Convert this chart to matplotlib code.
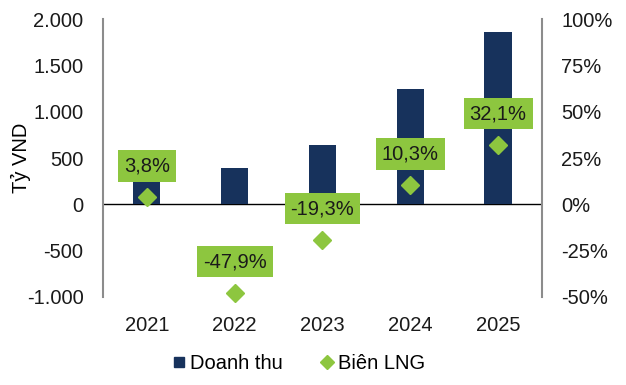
import matplotlib.pyplot as plt
from matplotlib.lines import Line2D
from matplotlib.ticker import FuncFormatter

plt.rcParams['font.family'] = ['Liberation Sans', 'DejaVu Sans']

years = ['2021', '2022', '2023', '2024', '2025']
doanh_thu = [240, 390, 645, 1250, 1855]
bien_lng = [3.8, -47.9, -19.3, 10.3, 32.1]

navy = '#17325c'
green = '#8dc63f'
gray = '#8c8c8c'
fs = 14.5

fig = plt.figure(figsize=(6.26, 3.85), dpi=100)
ax = fig.add_axes([0.1645, 0.2286, 0.7013, 0.722])
ax2 = ax.twinx()

x = range(len(years))
ax.bar(x, doanh_thu, width=0.31, color=navy, zorder=2)
ax.axhline(0, color='black', lw=1, zorder=1)
ax.set_ylim(-1000, 2000)
ax.set_yticks([-1000, -500, 0, 500, 1000, 1500, 2000])
ax.yaxis.set_major_formatter(FuncFormatter(lambda v, p: f'{int(v):,}'.replace(',', '.')))
ax.set_xlim(-0.5, 4.5)
ax.set_xticks(list(x))
ax.set_xticklabels(years)
ax.set_ylabel('Tỷ VND', fontsize=fs, labelpad=-3)

ax2.set_ylim(-50, 100)
ax2.set_yticks([-50, -25, 0, 25, 50, 75, 100])
ax2.yaxis.set_major_formatter(FuncFormatter(lambda v, p: f'{int(v)}%'))
ax2.plot(list(x), bien_lng, ls='none', marker='D', ms=9, color=green,
         zorder=3, clip_on=False)
for i, v in enumerate(bien_lng):
    ax2.annotate(f'{v:.1f}%'.replace('.', ','), (i, v), xytext=(0, 22.5),
                 textcoords='offset points', ha='center', va='center',
                 fontsize=fs, color='#1a1a1a', zorder=5,
                 bbox=dict(boxstyle='square,pad=0.3', fc=green, ec='none'))

for a in (ax, ax2):
    for s in ('top', 'bottom'):
        a.spines[s].set_visible(False)
    a.spines['left'].set_color(gray)
    a.spines['right'].set_color(gray)
    a.spines['left'].set_linewidth(1.5)
    a.spines['right'].set_linewidth(1.5)
    a.tick_params(length=0, labelsize=fs, colors='#1a1a1a')
ax.spines['right'].set_visible(False)
ax2.spines['left'].set_visible(False)
ax.tick_params(axis='y', pad=14)
ax2.tick_params(axis='y', pad=14)
ax.tick_params(axis='x', pad=14)

handles = [Line2D([], [], ls='none', marker='s', ms=7, color=navy, label='Doanh thu'),
           Line2D([], [], ls='none', marker='D', ms=7, color=green, label='Biên LNG')]
fig.legend(handles=handles, loc='center', bbox_to_anchor=(0.475, 0.055), ncol=2,
           frameon=False, fontsize=fs, handletextpad=0.05, columnspacing=1.7,
           handlelength=1.0)

fig.savefig('out.png', dpi=100)
